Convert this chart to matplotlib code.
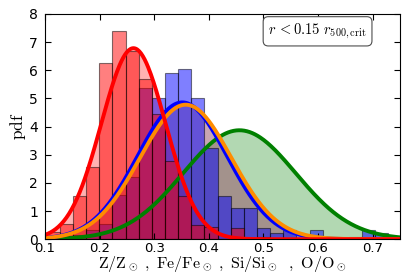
import numpy as np
from matplotlib import pyplot as plt

plt.rcParams['mathtext.fontset'] = 'cm'

# histogram bins (shared by both histograms)
bin_lo, bin_hi, n_bins = 0.103, 0.753, 27

# normalised histogram heights (pdf)
hist_z = [0.25, 0.55, 1.55, 2.56, 6.27, 7.39, 6.70, 5.68, 4.46, 2.77, 1.54, 0.52, 0.42, 0.0,
          0.41, 0.0, 0.08, 0.0, 0.0, 0.0, 0.0, 0.0, 0.0, 0.0, 0.0, 0.0, 0.0]
hist_fe = [0.0, 0.10, 0.15, 0.33, 0.54, 1.57, 2.20, 5.36, 5.03, 5.92, 6.03, 5.01, 3.24, 1.55,
           1.12, 1.12, 0.41, 0.22, 0.32, 0.0, 0.32, 0.0, 0.0, 0.09, 0.33, 0.21, 0.0]

# gaussian fits: mean, sigma
fit_names = ['O', 'Fe', 'Si', 'Z']
fit_mu = [0.456, 0.3515, 0.3576, 0.262]
fit_sigma = [0.1031, 0.0821, 0.0835, 0.0588]
fit_colors = ['green', 'blue', 'darkorange', 'red']

xticks = [0.1, 0.2, 0.3, 0.4, 0.5, 0.6, 0.7]
yticks = [0, 1, 2, 3, 4, 5, 6, 7, 8]


def gauss(x, mu, sigma):
    return np.exp(-(x - mu) ** 2 / (2 * sigma ** 2)) / (sigma * np.sqrt(2 * np.pi))


fig = plt.figure(figsize=(4.11, 2.74), dpi=100)
ax = fig.add_axes([0.1095, 0.127, 0.8635, 0.822])

x = np.linspace(0.1, 0.75, 400)
# shaded areas under the fits go underneath the histograms
for mu, sig, col in zip(fit_mu, fit_sigma, fit_colors):
    ax.fill_between(x, 0, gauss(x, mu, sig), color=col, alpha=0.3, lw=0)

edges = np.linspace(bin_lo, bin_hi, n_bins + 1)
centers = 0.5 * (edges[:-1] + edges[1:])
ax.hist(centers, bins=edges, weights=hist_fe, color='blue', alpha=0.5, edgecolor='k', lw=0.8)
ax.hist(centers, bins=edges, weights=hist_z, color='red', alpha=0.5, edgecolor='k', lw=0.8)

for mu, sig, col in zip(fit_mu, fit_sigma, fit_colors):
    ax.plot(x, gauss(x, mu, sig), color=col, lw=2.8)

ax.set_xlim(0.1, 0.75)
ax.set_ylim(0, 8)
ax.set_xticks(xticks)
ax.set_yticks(yticks)
ax.set_xticklabels(['0.1', '0.2', '0.3', '0.4', '0.5', '0.6', '0.7'])
ax.tick_params(direction='in', top=True, right=True, labelsize=10, length=4)
ax.tick_params(axis='x', pad=2, labelsize=9.5)
ax.tick_params(axis='y', pad=5)
ax.set_xlabel(r'$\rm Z/Z_\odot\ ,\ Fe/Fe_\odot\ ,\ Si/Si_\odot\ \ ,\ O/O_\odot$', fontsize=11.5, labelpad=-0.5)
ax.set_ylabel(r'$\rm pdf$', fontsize=12.5, labelpad=1)

ax.text(0.768, 0.923, r'$r\,{<}0.15\ r_{\rm 500,crit}$', transform=ax.transAxes,
        ha='center', va='center', fontsize=10.5,
        bbox=dict(boxstyle='round,pad=0.35', fc='white', ec='0.3', lw=0.8))

fig.savefig('out.png', dpi=100)
